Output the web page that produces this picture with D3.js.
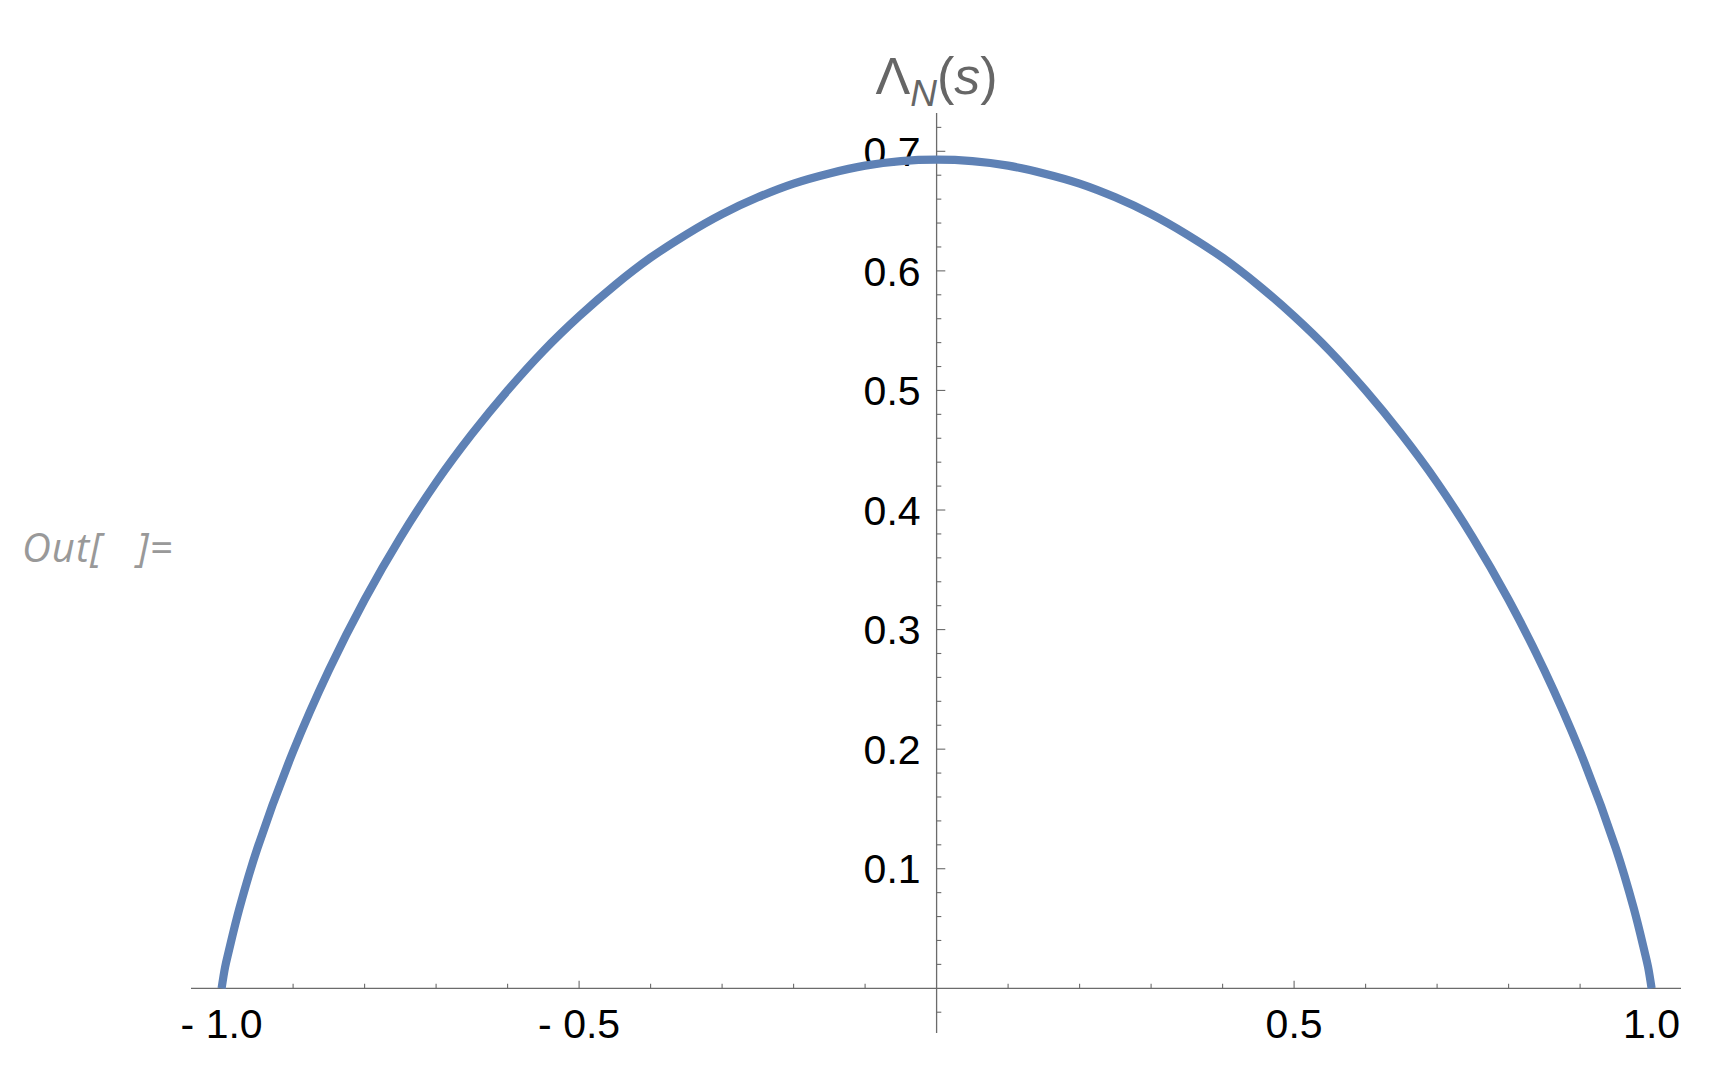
<!DOCTYPE html>
<head>
  <meta charset="utf-8">
  <script src="https://d3js.org/d3.v7.min.js"></script>
  <style>
    body { margin:0; background:#fff; }
    svg { display:block; }
    .tick text { font-family: "Liberation Sans", Arial, sans-serif; font-size: 41px; fill: #000; }
  </style>
</head>
<body>
<div id="chart"></div>
<script>
  // values (s, Lambda_N(s))
  var sValues = [-1.0, -0.995, -0.99, -0.975, -0.95, -0.9, -0.85, -0.8, -0.75, -0.7, -0.65, -0.6, -0.55, -0.5,
                 -0.45, -0.4, -0.35, -0.3, -0.25, -0.2, -0.15, -0.1, -0.05, 0.0,
                 0.05, 0.1, 0.15, 0.2, 0.25, 0.3, 0.35, 0.4, 0.45, 0.5, 0.55, 0.6, 0.65, 0.7, 0.75,
                 0.8, 0.85, 0.9, 0.95, 0.975, 0.99, 0.995, 1.0];
  var lambdaValues = [0.0, 0.018, 0.031, 0.067, 0.117, 0.198, 0.266, 0.325, 0.377, 0.423, 0.4635, 0.500, 0.533, 0.562,
                      0.588, 0.611, 0.6305, 0.6475, 0.6615, 0.673, 0.6815, 0.688, 0.6918, 0.693,
                      0.6918, 0.688, 0.6815, 0.673, 0.6615, 0.6475, 0.6305, 0.611, 0.588, 0.562, 0.533, 0.500, 0.4635, 0.423, 0.377,
                      0.325, 0.266, 0.198, 0.117, 0.067, 0.031, 0.018, 0.0];
  var xMajorTicks = [-1.0, -0.5, 0.5, 1.0];
  var xMajorLabels = ["- 1.0", "- 0.5", "0.5", "1.0"];
  var yMajorTicks = [0.1, 0.2, 0.3, 0.4, 0.5, 0.6, 0.7];
  var yMajorLabels = ["0.1", "0.2", "0.3", "0.4", "0.5", "0.6", "0.7"];

  var width = 1733, height = 1078;
  var axisColor = "#6b6b6b";

  var svg = d3.select("#chart").append("svg")
      .attr("width", width).attr("height", height);

  svg.append("rect").attr("width", width).attr("height", height).attr("fill", "#fff");

  var x = d3.scaleLinear().domain([-1, 1]).range([221.6, 1651.6]);
  var y = d3.scaleLinear().domain([0, 0.7]).range([988.3, 151.3]);

  var xMinor = d3.range(-10, 11).map(function(i) { return i / 10; })
      .filter(function(d) { return Math.abs(d) > 1e-9 && xMajorTicks.indexOf(d) < 0; });
  var yMinor = d3.range(-1, 37).map(function(i) { return i / 50; })
      .filter(function(d) { return Math.abs(d) > 1e-9 && yMajorTicks.every(function(t) { return Math.abs(t - d) > 1e-9; }); });

  // x axis
  var gx = svg.append("g").attr("transform", "translate(0," + y(0) + ")");
  gx.append("line").attr("x1", 191).attr("x2", 1681)
      .attr("stroke", axisColor).attr("stroke-width", 1.3);
  gx.selectAll(".minor").data(xMinor).enter().append("line")
      .attr("x1", x).attr("x2", x).attr("y1", 0).attr("y2", -4.5)
      .attr("stroke", axisColor).attr("stroke-width", 1.1);
  var xt = gx.selectAll(".tick").data(xMajorTicks).enter().append("g")
      .attr("class", "tick")
      .attr("transform", function(d) { return "translate(" + x(d) + ",0)"; });
  xt.append("line").attr("y1", 0).attr("y2", -7.5)
      .attr("stroke", axisColor).attr("stroke-width", 1.1);
  xt.append("text").attr("y", 50).attr("text-anchor", "middle")
      .text(function(d, i) { return xMajorLabels[i]; });

  // y axis
  var gy = svg.append("g").attr("transform", "translate(" + x(0) + ",0)");
  gy.append("line").attr("y1", 113).attr("y2", 1033)
      .attr("stroke", axisColor).attr("stroke-width", 1.3);
  gy.selectAll(".minor").data(yMinor).enter().append("line")
      .attr("y1", y).attr("y2", y).attr("x1", 0).attr("x2", 4.7)
      .attr("stroke", axisColor).attr("stroke-width", 1.1);
  var yt = gy.selectAll(".tick").data(yMajorTicks).enter().append("g")
      .attr("class", "tick")
      .attr("transform", function(d) { return "translate(0," + y(d) + ")"; });
  yt.append("line").attr("x1", 0).attr("x2", 8.7)
      .attr("stroke", axisColor).attr("stroke-width", 1.1);
  yt.append("text").attr("x", -16).attr("dy", "0.36em").attr("text-anchor", "end")
      .text(function(d, i) { return yMajorLabels[i]; });

  // axis label
  var lab = svg.append("text")
      .attr("x", x(0)).attr("y", 94)
      .attr("text-anchor", "middle")
      .attr("font-family", "Liberation Sans, Arial, sans-serif")
      .attr("font-size", 52).attr("fill", "#666");
  lab.append("tspan").text("Λ");
  lab.append("tspan").attr("font-style", "italic").attr("font-size", 37).attr("dy", 12).text("N");
  lab.append("tspan").attr("dy", -12).text("(");
  lab.append("tspan").attr("font-style", "italic").text("s");
  lab.append("tspan").text(")");

  // curve
  var pts = sValues.map(function(s, i) { return [s, lambdaValues[i]]; });
  var line = d3.line()
      .x(function(d) { return x(d[0]); })
      .y(function(d) { return y(d[1]); })
      .curve(d3.curveCatmullRom.alpha(0.5));
  svg.append("path").datum(pts)
      .attr("d", line)
      .attr("fill", "none")
      .attr("stroke", "#5e81b5")
      .attr("stroke-width", 8.2);

  // notebook output label
  svg.append("text")
      .attr("x", 22).attr("y", 562)
      .attr("font-family", "Open Sans, sans-serif")
      .attr("font-style", "italic")
      .attr("font-size", 40)
      .attr("letter-spacing", 1)
      .attr("fill", "#999")
      .attr("xml:space", "preserve")
      .text("Out[   ]=");
</script>
</body>
